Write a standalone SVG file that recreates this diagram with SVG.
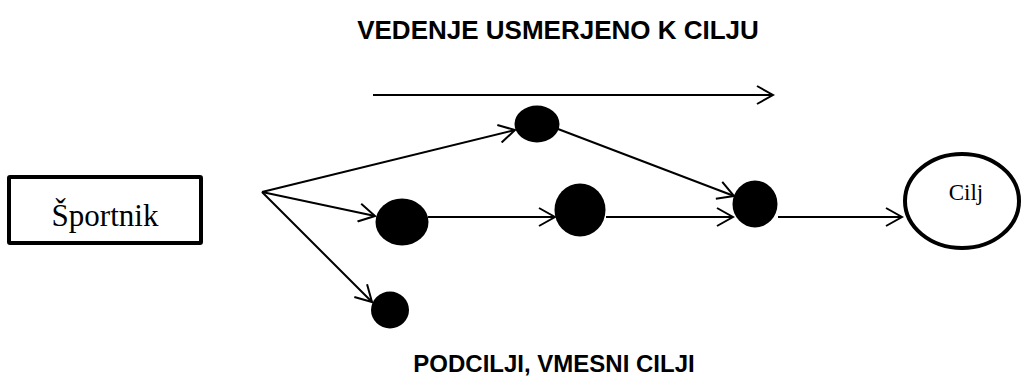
<svg xmlns="http://www.w3.org/2000/svg" width="1024" height="381" viewBox="0 0 1024 381">
<defs>
<style>
.title{font-family:"Liberation Sans",Arial,sans-serif;font-weight:bold;fill:#000;text-anchor:middle}
.serif{font-family:"Liberation Serif","Times New Roman",serif;fill:#000;text-anchor:middle}
.edge{stroke:#000;stroke-width:2;fill:none}
.dot{fill:#000}
</style>
<marker id="arr" viewBox="0 0 20 20" refX="18" refY="10" markerWidth="20" markerHeight="20" markerUnits="userSpaceOnUse" orient="auto">
<path d="M2,1 L18,10 L2,19" fill="none" stroke="#000" stroke-width="2"/>
</marker>
</defs>
<rect width="1024" height="381" fill="#fff"/>
<text class="title" x="558" y="39" font-size="26">VEDENJE USMERJENO K CILJU</text>
<text class="title" x="554" y="372" font-size="24">PODCILJI, VMESNI CILJI</text>
<g id="connectors">
<line class="edge" x1="373" y1="95" x2="773" y2="95" marker-end="url(#arr)"/>
<line class="edge" x1="262" y1="192" x2="515" y2="130" marker-end="url(#arr)"/>
<line class="edge" x1="262" y1="192" x2="375" y2="216" marker-end="url(#arr)"/>
<line class="edge" x1="262" y1="192" x2="372" y2="302" marker-end="url(#arr)"/>
<line class="edge" x1="428" y1="217" x2="555" y2="217" marker-end="url(#arr)"/>
<line class="edge" x1="606" y1="217" x2="733" y2="217" marker-end="url(#arr)"/>
<line class="edge" x1="558" y1="129" x2="734" y2="196" marker-end="url(#arr)"/>
<line class="edge" x1="778" y1="217" x2="902" y2="217" marker-end="url(#arr)"/>
</g>
<g id="sportnik">
<rect x="9" y="177" width="192" height="66" fill="#fff" stroke="#000" stroke-width="4" rx="1"/>
<text class="serif" x="105" y="226" font-size="31">Športnik</text>
</g>
<g id="n1"><ellipse class="dot" cx="537" cy="124" rx="22.5" ry="18.5"/></g>
<g id="n2"><ellipse class="dot" cx="402" cy="222" rx="26.5" ry="23.5"/></g>
<g id="n3"><ellipse class="dot" cx="580" cy="210" rx="25.5" ry="26.5"/></g>
<g id="n4"><ellipse class="dot" cx="755" cy="204" rx="22.5" ry="23.5"/></g>
<g id="n5"><ellipse class="dot" cx="390" cy="310" rx="19" ry="18.5"/></g>
<g id="cilj">
<ellipse cx="962" cy="201" rx="57" ry="47" fill="#fff" stroke="#000" stroke-width="4"/>
<text class="serif" x="966" y="200" font-size="23">Cilj</text>
</g>
</svg>
